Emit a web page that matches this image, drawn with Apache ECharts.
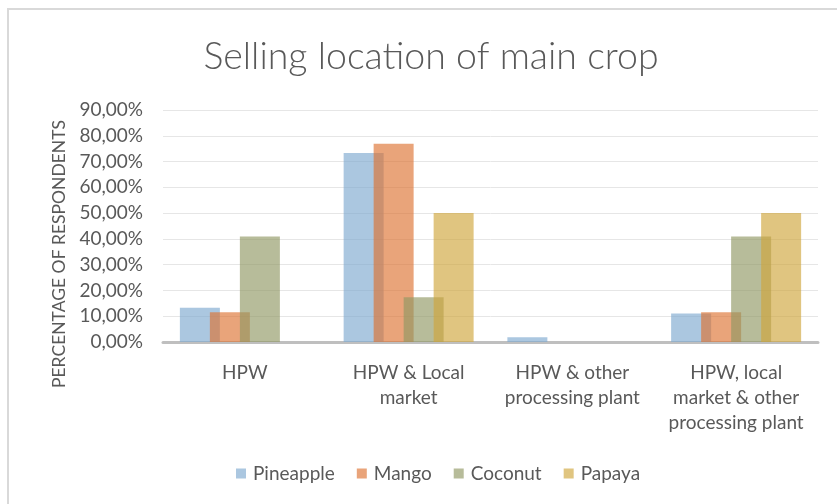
<!DOCTYPE html>
<html>
<head>
<meta charset="utf-8">
<script src="https://cdn.jsdelivr.net/npm/echarts@6/dist/echarts.min.js"></script>
<style>
  html, body { margin: 0; padding: 0; background: #fff; }
  #frame { position: absolute; left: 7px; top: 8px; width: 840px; height: 500px;
           border-left: 2px solid #d9d9d9; border-top: 2px solid #d9d9d9; }
  #chart { position: absolute; left: 0; top: 0; width: 837px; height: 504px; }
</style>
</head>
<body>
<div id="frame"></div>
<div id="chart"></div>
<script>
const categories = ['HPW', 'HPW & Local\nmarket', 'HPW & other\nprocessing plant', 'HPW, local\nmarket & other\nprocessing plant']
const pineapple = [13.3, 73.3, 1.8, 11.1]
const mango = [11.5, 76.9, 0, 11.5]
const coconut = [40.9, 17.4, 0, 40.9]
const papaya = [0, 50, 0, 50]

const textColor = '#595959'
const font = 'Lato'

const chart = echarts.init(document.getElementById('chart'), null, { renderer: 'canvas' })

// semi-transparent bars, like the source: overlaps come out darker
function bar(name, data, color) {
  return {
    name: name,
    type: 'bar',
    data: data,
    barWidth: 40,
    barGap: '-25%',
    itemStyle: { color: color, opacity: 0.65 }
  }
}

chart.setOption({
  animation: false,
  title: {
    text: 'Selling location of main crop',
    left: 426,
    top: 33,
    textAlign: 'center',
    textStyle: { color: textColor, fontFamily: font, fontWeight: 300, fontSize: 37.5 }
  },
  legend: {
    top: 459,
    left: 231,
    itemWidth: 10,
    itemHeight: 10,
    itemGap: 22,
    icon: 'rect',
    textStyle: { color: textColor, fontFamily: font, fontSize: 19, padding: [0, 0, 0, 2] },
    data: ['Pineapple', 'Mango', 'Coconut', 'Papaya']
  },
  grid: { left: 163, right: 19, top: 110, bottom: 162 },
  xAxis: {
    type: 'category',
    data: categories,
    axisTick: { show: false },
    axisLine: { lineStyle: { color: '#bfbfbf', width: 3 } },
    axisLabel: {
      color: textColor, fontFamily: font, fontSize: 19, lineHeight: 25,
      margin: 18, interval: 0
    }
  },
  yAxis: {
    type: 'value',
    min: 0,
    max: 90,
    interval: 10,
    axisLine: { show: false },
    axisTick: { show: false },
    splitLine: { lineStyle: { color: '#e6e6e6', width: 1 } },
    axisLabel: {
      color: textColor, fontFamily: font, fontSize: 19, margin: 20,
      formatter: v => v.toFixed(2).replace('.', ',') + '%'
    }
  },
  graphic: [{
    type: 'text',
    x: 59,
    y: 254,
    rotation: Math.PI / 2,
    style: {
      text: 'PERCENTAGE OF RESPONDENTS',
      fill: textColor,
      font: '17.5px Lato',
      align: 'center',
      verticalAlign: 'middle'
    }
  }],
  series: [
    bar('Pineapple', pineapple, 'rgb(126,169,208)'),
    bar('Mango', mango, 'rgb(221,115,51)'),
    bar('Coconut', coconut, 'rgb(145,152,100)'),
    bar('Papaya', papaya, 'rgb(208,166,60)')
  ]
})
</script>
</body>
</html>
